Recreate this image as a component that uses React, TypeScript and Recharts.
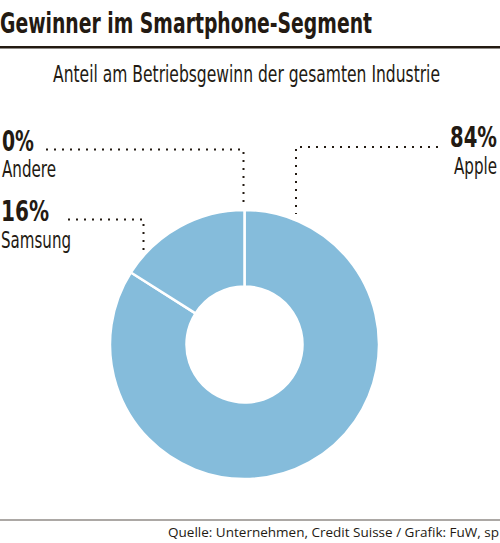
import React from 'react';
import { Cell, Pie, PieChart } from 'recharts';

const companies = ['Apple', 'Samsung', 'Andere'];
const profitShare = [84, 16, 0];

const title = 'Gewinner im Smartphone-Segment';
const subtitle = 'Anteil am Betriebsgewinn der gesamten Industrie';
const source = 'Quelle: Unternehmen, Credit Suisse / Grafik: FuW, sp';

const data = companies.map((name, i) => ({ name, value: profitShare[i] }));

const INK = '#231a12';
const BLUE = '#85bcdb';
const NARROW = '"Liberation Sans Narrow", "DejaVu Sans Condensed", sans-serif';

// label blocks: where the value/name sit and how the dotted leader runs
const labels = [
  { name: 'Andere', x: 2, anchor: 'start', valueY: 151, nameY: 177, valueW: 32, nameW: 54, lead: [[46, 149.5], [243.5, 149.5], [243.5, 208]] },
  { name: 'Samsung', x: 1, anchor: 'start', valueY: 221, nameY: 248, valueW: 48, nameW: 70, lead: [[68, 219.5], [143.5, 219.5], [143.5, 250]] },
  { name: 'Apple', x: 497, anchor: 'end', valueY: 147, nameY: 174, valueW: 47, nameW: 43, lead: [[438, 147], [296, 147], [296, 214]] },
];

const Leader = ({ pts }: { pts: number[][] }) => (
  <polyline
    points={pts.map((p) => p.join(',')).join(' ')}
    fill='none'
    stroke={INK}
    strokeWidth={2}
    strokeDasharray='2 6'
  />
);

export default function App() {
  return (
    <div style={{ position: 'absolute', left: 0, top: 0, width: 500, height: 543, background: '#fff' }}>
      <PieChart width={500} height={543} margin={{ top: 0, right: 0, bottom: 0, left: 0 }}>
        <Pie
          data={data}
          dataKey='value'
          nameKey='name'
          cx={244.5}
          cy={344.5}
          innerRadius={58}
          outerRadius={134.5}
          startAngle={90}
          endAngle={-270}
          stroke='#fff'
          strokeWidth={2.5}
          isAnimationActive={false}
        >
          {data.map((d) => (
            <Cell key={d.name} fill={BLUE} />
          ))}
        </Pie>
      </PieChart>

      <svg width={500} height={543} style={{ position: 'absolute', left: 0, top: 0, pointerEvents: 'none' }}>
        <text x={0} y={33} fontFamily={NARROW} fontWeight={700} fontSize={28} fill={INK} textLength={372} lengthAdjust='spacingAndGlyphs'>
          {title}
        </text>
        <rect x={0} y={46} width={500} height={2.5} fill={INK} />
        <text x={53} y={82} fontFamily={NARROW} fontSize={23} fill={INK} textLength={387} lengthAdjust='spacingAndGlyphs'>
          {subtitle}
        </text>

        {labels.map((l) => {
          const i = companies.indexOf(l.name);
          return (
            <g key={l.name}>
              <Leader pts={l.lead} />
              <text x={l.x} y={l.valueY} textAnchor={l.anchor} fontFamily={NARROW} fontWeight={700} fontSize={28} fill={INK} textLength={l.valueW} lengthAdjust='spacingAndGlyphs'>
                {`${profitShare[i]}%`}
              </text>
              <text x={l.x} y={l.nameY} textAnchor={l.anchor} fontFamily={NARROW} fontSize={23} fill={INK} textLength={l.nameW} lengthAdjust='spacingAndGlyphs'>
                {companies[i]}
              </text>
            </g>
          );
        })}

        <rect x={0} y={519.5} width={500} height={1} fill='#5a524c' />
        <text x={168} y={537} fontFamily='"Open Sans", sans-serif' fontSize={12} fill={INK} textLength={331} lengthAdjust='spacingAndGlyphs'>
          {source}
        </text>
      </svg>
    </div>
  );
}
